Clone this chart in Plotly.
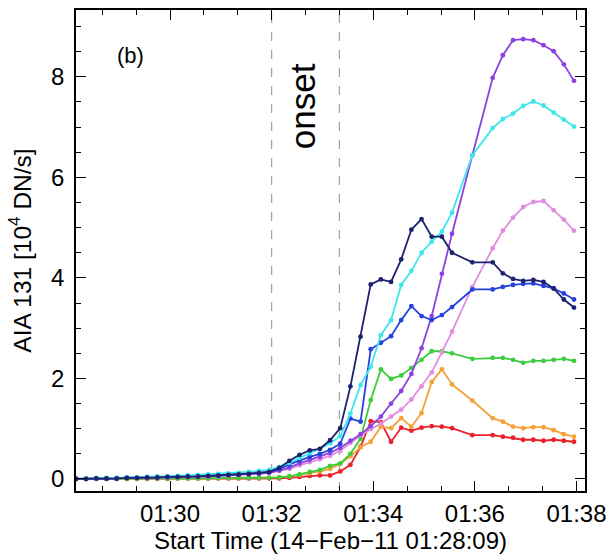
import plotly.graph_objects as go

times = [
    "01:28:09", "01:28:21", "01:28:33", "01:28:45", "01:28:57",
    "01:29:09", "01:29:21", "01:29:33", "01:29:45", "01:29:57",
    "01:30:09", "01:30:21", "01:30:33", "01:30:45", "01:30:57",
    "01:31:09", "01:31:21", "01:31:33", "01:31:45", "01:31:57",
    "01:32:09", "01:32:21", "01:32:33", "01:32:45", "01:32:57",
    "01:33:09", "01:33:21", "01:33:33", "01:33:45", "01:33:57",
    "01:34:09", "01:34:21", "01:34:33", "01:34:45", "01:34:57",
    "01:35:09", "01:35:21", "01:35:33", "01:35:45", "01:35:57",
    "01:36:09", "01:36:21", "01:36:33", "01:36:45", "01:36:57",
    "01:37:09", "01:37:21", "01:37:33", "01:37:45", "01:37:57",
]
N = None
navy = [0, 0, 0.01, 0.01, 0.01, 0.02, 0.02, 0.03, 0.03, 0.04,
        0.04, 0.05, 0.05, 0.06, 0.07, 0.08, 0.09, 0.10, 0.12, 0.14,
        0.22, 0.36, 0.48, 0.57, 0.60, 0.77, 1.01, 1.84, 2.83, 3.87,
        3.97, 3.92, 4.37, 4.96, 5.17, 4.82, 4.82, 4.50, N, 4.31,
        N, 4.31, 4.09, 3.98, 3.94, 3.96, 3.92, 3.79, 3.57, 3.41]
blue = [0, 0, 0.01, 0.01, 0.01, 0.02, 0.02, 0.03, 0.03, 0.04,
        0.04, 0.05, 0.05, 0.06, 0.07, 0.08, 0.09, 0.10, 0.12, 0.14,
        0.20, 0.29, 0.37, 0.44, 0.50, 0.58, 0.70, 1.20, 1.14, 2.58,
        2.71, 2.84, 3.16, 3.44, 3.24, 3.16, 3.26, 3.42, N, 3.77,
        N, 3.77, 3.82, 3.86, 3.88, 3.89, 3.84, 3.79, 3.69, 3.57]
cyan = [0, 0.01, 0.01, 0.02, 0.02, 0.03, 0.03, 0.04, 0.05, 0.05,
        0.06, 0.07, 0.08, 0.09, 0.10, 0.11, 0.12, 0.14, 0.16, 0.18,
        0.24, 0.32, 0.42, 0.51, 0.60, 0.71, 0.85, 1.30, 1.87, 2.23,
        2.86, 3.16, 3.86, 4.14, 4.50, 4.72, 4.92, 5.30, N, 6.44,
        N, 6.98, 7.16, 7.27, 7.42, 7.51, 7.43, 7.29, 7.15, 7.01]
purple = [0, 0, 0.01, 0.01, 0.01, 0.02, 0.02, 0.02, 0.03, 0.03,
          0.04, 0.04, 0.05, 0.05, 0.06, 0.07, 0.08, 0.09, 0.10, 0.12,
          0.17, 0.23, 0.31, 0.38, 0.44, 0.52, 0.62, 0.76, 0.89, 1.05,
          1.24, 1.50, 1.75, 2.09, 2.60, 3.24, 4.08, 4.88, N, 6.44,
          N, 7.98, 8.43, 8.73, 8.75, 8.73, 8.63, 8.51, 8.25, 7.92]
pink = [0, 0, 0.01, 0.01, 0.01, 0.02, 0.02, 0.02, 0.03, 0.03,
        0.04, 0.04, 0.05, 0.05, 0.06, 0.07, 0.08, 0.09, 0.10, 0.12,
        0.16, 0.20, 0.27, 0.33, 0.39, 0.46, 0.56, 0.72, 0.87, 0.99,
        1.10, 1.24, 1.38, 1.58, 1.84, 2.12, 2.52, 2.93, N, 3.82,
        N, 4.59, 4.94, 5.20, 5.41, 5.51, 5.53, 5.35, 5.16, 4.94]
green = [0, 0, 0, 0, 0, 0, 0.01, 0.01, 0.01, 0.01,
         0.01, 0.01, 0.01, 0.01, 0.02, 0.02, 0.02, 0.02, 0.02, 0.02,
         0.03, 0.05, 0.09, 0.14, 0.18, 0.26, 0.31, 0.50, 0.80, 1.57,
         2.18, 1.99, 2.06, 2.21, 2.37, 2.54, 2.54, 2.50, N, 2.39,
         N, 2.41, 2.41, 2.37, 2.31, 2.35, 2.35, 2.37, 2.39, 2.35]
orange = [0, 0, 0, 0, 0, 0, 0, 0.01, 0.01, 0.01,
          0.01, 0.01, 0.01, 0.01, 0.02, 0.02, 0.02, 0.02, 0.02, 0.02,
          0.03, 0.05, 0.08, 0.11, 0.15, 0.20, 0.30, 0.45, 0.63, 0.74,
          1.04, 1.01, 1.21, 1.04, 1.31, 1.93, 2.18, 1.88, N, 1.56,
          N, 1.21, 1.14, 1.04, 1.01, 1.03, 1.03, 0.97, 0.89, 0.84]
red = [0, 0, 0, 0, 0, 0, 0, 0, 0, 0,
       0.01, 0.01, 0.01, 0.01, 0.01, 0.01, 0.01, 0.01, 0.01, 0.01,
       0.01, 0.02, 0.04, 0.06, 0.07, 0.07, 0.15, 0.28, 0.64, 1.15,
       1.13, 0.74, 1.02, 0.96, 1.02, 1.05, 1.04, 1.01, N, 0.87,
       N, 0.87, 0.84, 0.82, 0.78, 0.78, 0.76, 0.78, 0.76, 0.74]

onset_lines = ["01:32:00", "01:33:20"]
xtick_vals = ["01:30:00", "01:32:00", "01:34:00", "01:36:00", "01:38:00"]
xtick_text = ["01:30", "01:32", "01:34", "01:36", "01:38"]
ytick_vals = [0, 2, 4, 6, 8]

day = "2011-02-14 "
x = [day + t for t in times]

series = [
    ("red", red, "#e8222a"),
    ("orange", orange, "#f4a236"),
    ("green", green, "#3ccc3c"),
    ("pink", pink, "#e08ee0"),
    ("purple", purple, "#8c42e0"),
    ("blue", blue, "#2442dc"),
    ("cyan", cyan, "#3ee6ee"),
    ("navy", navy, "#1c226e"),
]

fig = go.Figure()
for name, vals, col in series:
    fig.add_trace(go.Scatter(
        x=x, y=vals, mode="lines+markers", name=name, connectgaps=True,
        line=dict(color=col, width=1.8),
        marker=dict(color=col, size=4.8),
        showlegend=False,
    ))

for t in onset_lines:
    fig.add_shape(type="line", xref="x", yref="paper", x0=day + t, x1=day + t,
                  y0=0, y1=1, line=dict(color="#a0a0a0", width=1.2, dash="dash"),
                  layer="below")

fig.add_annotation(x=0.107, y=0.906, xref="paper", yref="paper", text="(b)",
                   showarrow=False, font=dict(size=22, color="black"),
                   xanchor="center", yanchor="middle")
fig.add_annotation(x=day + "01:32:36", y=7.42, xref="x", yref="y", text="onset",
                   showarrow=False, textangle=-90,
                   font=dict(size=35, color="black"),
                   xanchor="center", yanchor="middle")

font_family = "Liberation Sans, Arial, sans-serif"
fig.update_layout(
    width=613, height=556,
    margin=dict(l=76, r=28, t=10, b=65),
    plot_bgcolor="white", paper_bgcolor="white",
    font=dict(family=font_family, color="black"),
)
fig.update_xaxes(
    type="date", automargin=False,
    range=[day + "01:28:09", day + "01:38:10"],
    tickvals=[day + v for v in xtick_vals], ticktext=xtick_text,
    ticks="inside", ticklen=10, tickwidth=1.2, tickcolor="black",
    minor=dict(ticks="inside", ticklen=5, tickwidth=1.2, tickcolor="black",
               dtick=40000, tick0=day + "01:30:00"),
    showline=True, linecolor="black", linewidth=1.5, mirror="allticks",
    showgrid=False, zeroline=False,
    tickfont=dict(size=24),
    title=dict(text="Start Time (14\u2212Feb\u221211 01:28:09)", font=dict(size=24), standoff=0),
)
fig.update_yaxes(
    automargin=False,
    range=[-0.24, 9.33],
    tickvals=ytick_vals,
    ticks="inside", ticklen=10, tickwidth=1.2, tickcolor="black",
    minor=dict(ticks="inside", ticklen=5, tickwidth=1.2, tickcolor="black", dtick=0.5),
    showline=True, linecolor="black", linewidth=1.5, mirror="allticks",
    showgrid=False, zeroline=False,
    tickfont=dict(size=24),
    ticklabelstandoff=5,
    title=dict(text="AIA 131 [10<sup>4</sup> DN/s]", font=dict(size=24.5), standoff=13),
)

fig.write_html("out.html", config={"displayModeBar": False},
               post_script="document.body.style.margin='0';document.body.style.padding='0';")
